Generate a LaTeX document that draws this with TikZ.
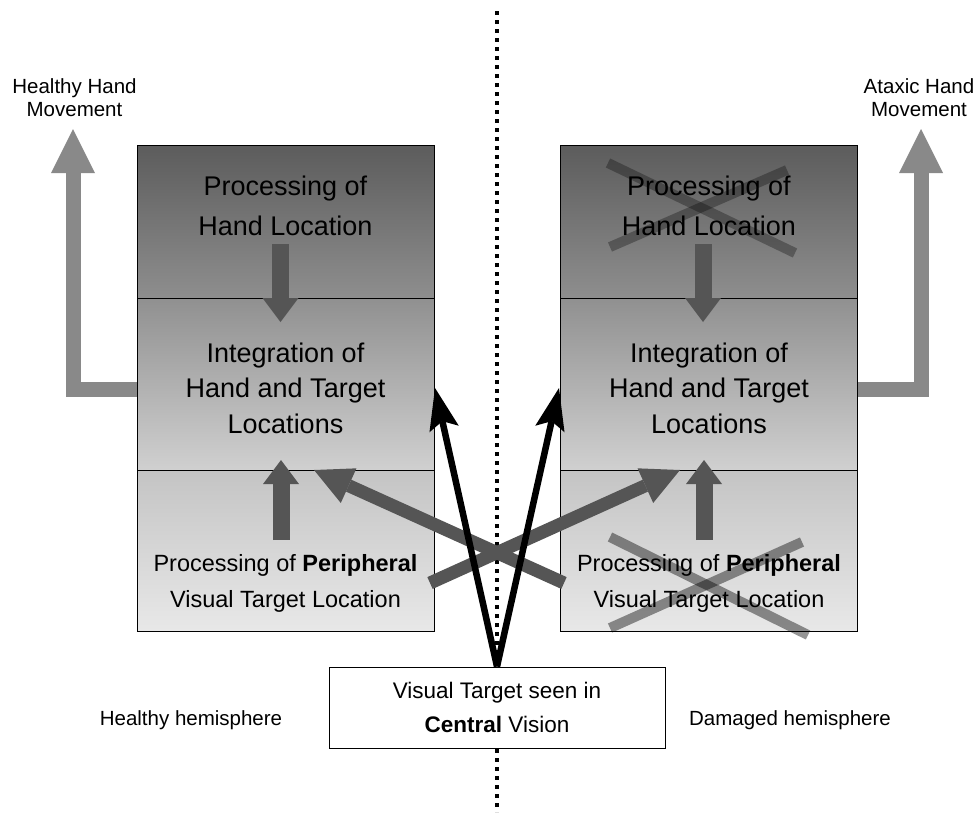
\documentclass[tikz,border=0pt]{standalone}
\usepackage{fontspec}
\setmainfont{Liberation Sans}
\usetikzlibrary{arrows.meta}

\definecolor{handtop}{HTML}{5C5C5C}
\definecolor{handbot}{HTML}{8E8E8E}
\definecolor{inttop}{HTML}{909090}
\definecolor{intbot}{HTML}{D0D0D0}
\definecolor{pertop}{HTML}{C4C4C4}
\definecolor{perbot}{HTML}{E8E8E8}
\definecolor{arrowgray}{HTML}{555555}
\definecolor{movegray}{HTML}{898989}

\begin{document}
\begin{tikzpicture}[x=1pt,y=-1pt,
    panel/.style={draw=black,line width=1pt,minimum width=297pt,inner sep=0pt},
    handpanel/.style={panel,minimum height=153pt,top color=handtop,bottom color=handbot},
    intpanel/.style={panel,minimum height=172pt,top color=inttop,bottom color=intbot},
    perpanel/.style={panel,minimum height=161pt,top color=pertop,bottom color=perbot},
    bigtext/.style={align=center,inner sep=0pt,font=\fontsize{27}{40}\selectfont},
    inttext/.style={align=center,inner sep=0pt,font=\fontsize{27}{35.5}\selectfont},
    pertext/.style={align=center,inner sep=0pt,font=\fontsize{23.5}{36}\selectfont},
    labeltext/.style={align=center,inner sep=0pt,font=\fontsize{20.5}{23}\selectfont},
    hemitext/.style={inner sep=0pt,font=\fontsize{20.5}{23}\selectfont},
    centralbox/.style={draw=black,line width=1pt,fill=white,minimum width=336pt,
        minimum height=81pt,align=center,font=\fontsize{22.5}{34}\selectfont},
    innerarrow/.style={draw=arrowgray,line width=17pt,
        -{Triangle[width=36pt,length=24pt,line width=0pt]}},
    crossarrow/.style={draw=arrowgray,line width=13pt,
        -{Triangle[width=38pt,length=38pt,line width=0pt]}},
    visarrow/.style={draw=black,line width=6.5pt,
        -{Stealth[width=30pt,length=42pt,inset=8pt,line width=0pt]}},
    movearrow/.style={draw=movegray,line width=15pt,
        -{Triangle[width=44pt,length=44pt,line width=0pt]}},
    crossout/.style={draw=black,draw opacity=0.3,line width=10pt},
    divider/.style={draw=black,line width=4pt,dash pattern=on 4pt off 5pt}]
    \useasboundingbox [fill=white] (0,0) rectangle (978,814);
    % midline between hemispheres
    \draw [divider] (497,11) -- (497,812);
    % healthy hemisphere
    \node [handpanel] (lhand) at (285.5,221.5) {};
    \node [intpanel] (lint) at (285.5,384) {};
    \node [perpanel] (lper) at (285.5,550.5) {};
    \node [bigtext] (lhandtxt) at (285.5,206) {Processing of\\Hand Location};
    \node [inttext] (linttxt) at (285.5,388) {Integration of\\Hand and Target\\Locations};
    \node [pertext] (lpertxt) at (285.5,583) {Processing of \textbf{Peripheral}\\Visual Target Location};
    % damaged hemisphere
    \node [handpanel] (rhand) at (709,221.5) {};
    \node [intpanel] (rint) at (709,384) {};
    \node [perpanel] (rper) at (709,550.5) {};
    \node [bigtext] (rhandtxt) at (709,206) {Processing of\\Hand Location};
    \node [inttext] (rinttxt) at (709,388) {Integration of\\Hand and Target\\Locations};
    \node [pertext] (rpertxt) at (709,583) {Processing of \textbf{Peripheral}\\Visual Target Location};
    % labels
    \node [labeltext] (lmovelbl) at (74.5,98) {Healthy Hand\\Movement};
    \node [labeltext] (rmovelbl) at (919,98) {Ataxic Hand\\Movement};
    \node [hemitext] (lhemi) at (191,720) {Healthy hemisphere};
    \node [hemitext] (rhemi) at (790,720) {Damaged hemisphere};
    \node [centralbox] (central) at (497,707.5) {Visual Target seen in\\\textbf{Central} Vision};
    % lesion marks
    \draw [crossout] (608,163) -- (795,253);
    \draw [crossout] (610,247) -- (787,170);
    \draw [crossout,draw opacity=0.42] (610,537) -- (808,635);
    \draw [crossout,draw opacity=0.42] (610,628) -- (802,542);
    % arrow ends
    \coordinate (lmove) at (73,129);
    \coordinate (rmove) at (921,129);
    \coordinate (lhandout) at (280.5,244);
    \coordinate (lintin) at (280.5,322);
    \coordinate (rhandout) at (703,244);
    \coordinate (rintin) at (703,322);
    \coordinate (lperout) at (281,540);
    \coordinate (lperin) at (281,460);
    \coordinate (rperout) at (704,540);
    \coordinate (rperin) at (704,460);
    \coordinate (lcross) at (430,583);
    \coordinate (rcrossin) at (680,470);
    \coordinate (rcross) at (564,583);
    \coordinate (lcrossin) at (314,470);
    \coordinate (lvis) at (435,388);
    \coordinate (rvis) at (559,388);
    % movement output
    \draw [movearrow] ([yshift=-5pt]lint.west) -| (lmove);
    \draw [movearrow] ([yshift=-5pt]rint.east) -| (rmove);
    % within each hemisphere
    \draw [innerarrow] (lhandout) -- (lintin);
    \draw [innerarrow] (rhandout) -- (rintin);
    \draw [innerarrow] (lperout) -- (lperin);
    \draw [innerarrow] (rperout) -- (rperin);
    % across hemispheres
    \draw [crossarrow] (lcross) -- (rcrossin);
    \draw [crossarrow] (rcross) -- (lcrossin);
    % central vision
    \draw [visarrow] (central.north) -- (lvis);
    \draw [visarrow] (central.north) -- (rvis);
\end{tikzpicture}
\end{document}
